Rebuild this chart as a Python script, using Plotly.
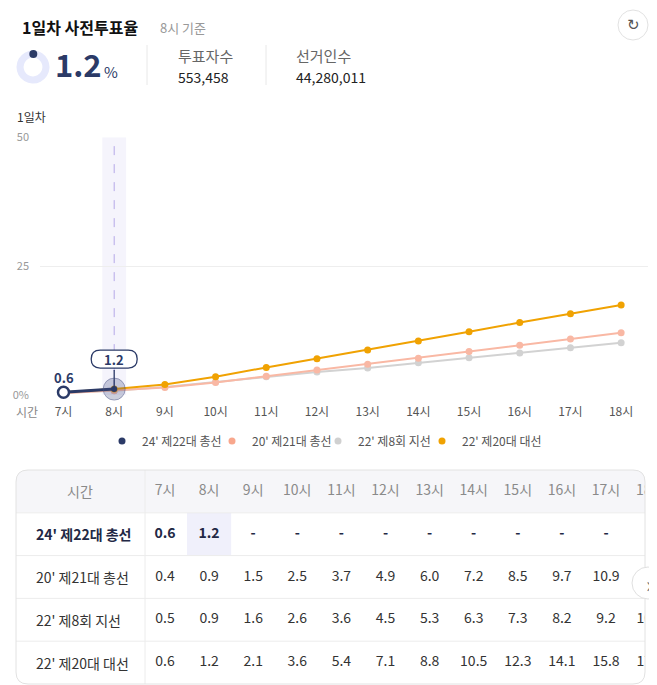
import plotly.graph_objects as go

# Chart data
hours = ['7시', '8시', '9시', '10시', '11시', '12시', '13시', '14시', '15시', '16시', '17시', '18시']
series_names = ["24' 제22대 총선", "20' 제21대 총선", "22' 제8회 지선", "22' 제20대 대선"]
vote_24 = [0.6, 1.2]
vote_20 = [0.4, 0.9, 1.5, 2.5, 3.7, 4.9, 6.0, 7.2, 8.5, 9.7, 10.9, 12.1]
local_22 = [0.5, 0.9, 1.6, 2.6, 3.6, 4.5, 5.3, 6.3, 7.3, 8.2, 9.2, 10.2]
pres_22 = [0.6, 1.2, 2.1, 3.6, 5.4, 7.1, 8.8, 10.5, 12.3, 14.1, 15.8, 17.5]
y_ticks = [0, 25, 50]
y_tick_text = ['0%', '25', '50']
turnout = 1.2
voters = 553458
electors = 44280011

W, H = 657, 685
OFF = 8  # page body margin
FONT = 'Noto Sans CJK KR, Noto Sans, sans-serif'
NAVY = '#2b3a67'
colors = [NAVY, '#f9b8a4', '#d2d2d2', '#f0a202']
legend_colors = [NAVY, '#f8a78d', '#d0d0d0', '#f0a202']
legend_dot_x = [128, 238, 344, 448]   # where each legend entry sits (px)


def px(x):
    return (x - OFF) / W


def py(y):
    return 1 - (y - OFF) / H


def rounded_rect(x0, y0, x1, y1, r, top_only=False):
    # path in paper coordinates from pixel box
    rx, ry = r / W, r / H
    X0, X1, Y0, Y1 = px(x0), px(x1), py(y1), py(y0)
    if top_only:
        return (f'M{X0},{Y0} L{X0},{Y1 - ry} Q{X0},{Y1} {X0 + rx},{Y1} '
                f'L{X1 - rx},{Y1} Q{X1},{Y1} {X1},{Y1 - ry} L{X1},{Y0} Z')
    return (f'M{X0 + rx},{Y0} L{X1 - rx},{Y0} Q{X1},{Y0} {X1},{Y0 + ry} '
            f'L{X1},{Y1 - ry} Q{X1},{Y1} {X1 - rx},{Y1} L{X0 + rx},{Y1} '
            f'Q{X0},{Y1} {X0},{Y1 - ry} L{X0},{Y0 + ry} Q{X0},{Y0} {X0 + rx},{Y0} Z')


fig = go.Figure()

# donut for turnout
fig.add_trace(go.Pie(values=[turnout, 100 - turnout], hole=0.57, sort=False,
                     direction='clockwise', rotation=0,
                     marker=dict(colors=[NAVY, '#e6e9fc'], line=dict(width=0)),
                     textinfo='none', hoverinfo='skip', showlegend=False,
                     domain=dict(x=[px(16.5), px(49.5)], y=[py(83.5), py(50.5)])))

# comparison lines
for name, vals, c in [(series_names[2], local_22, colors[2]),
                      (series_names[1], vote_20, colors[1]),
                      (series_names[3], pres_22, colors[3])]:
    fig.add_trace(go.Scatter(x=hours[:len(vals)], y=vals, mode='lines+markers', name=name,
                             line=dict(color=c, width=2), marker=dict(size=7, color=c),
                             showlegend=False, cliponaxis=False, hoverinfo='skip'))

# current election: line, hollow start point, halo + dot on the latest hour
last = len(vote_24) - 1
fig.add_trace(go.Scatter(x=hours[:len(vote_24)], y=vote_24, mode='lines',
                         line=dict(color=NAVY, width=3), showlegend=False,
                         cliponaxis=False, hoverinfo='skip'))
fig.add_trace(go.Scatter(x=hours[:last], y=vote_24[:last], mode='markers',
                         marker=dict(size=11, color='#ffffff', line=dict(color=NAVY, width=2.5)),
                         showlegend=False, cliponaxis=False, hoverinfo='skip'))
fig.add_trace(go.Scatter(x=[hours[last]], y=[vote_24[last]], mode='markers',
                         marker=dict(size=22, color='rgba(70,80,130,0.28)',
                                     line=dict(color='rgba(70,80,130,0.45)', width=1)),
                         showlegend=False, cliponaxis=False, hoverinfo='skip'))
fig.add_trace(go.Scatter(x=[hours[last]], y=[vote_24[last]], mode='markers',
                         marker=dict(size=6, color=NAVY, line=dict(width=0)),
                         showlegend=False, cliponaxis=False, hoverinfo='skip'))

# legend-only entries (dots), one small legend each so they sit like the original
legend_ids = ['legend', 'legend2', 'legend3', 'legend4']
for name, c, lid in zip(series_names, legend_colors, legend_ids):
    fig.add_trace(go.Scatter(x=[None], y=[None], mode='markers', name=name, legend=lid,
                             marker=dict(size=7, color=c)))

# table: header row + data rows on their own axes
rows = ['시간'] + series_names
fig.add_trace(go.Scatter(x=hours, y=[rows[0]] * len(hours), mode='text', text=hours,
                         textfont=dict(size=14, color='#8a8a8a', family=FONT),
                         xaxis='x2', yaxis='y2', showlegend=False, hoverinfo='skip'))
for i, vals in enumerate([vote_24, vote_20, local_22, pres_22]):
    texts = [f'{v:.1f}' for v in vals] + ['-'] * (len(hours) - len(vals))
    fig.add_trace(go.Scatter(x=hours, y=[series_names[i]] * len(hours), mode='text', text=texts,
                             textfont=dict(size=14, family=FONT,
                                           color='#222845' if i == 0 else '#333333',
                                           weight='bold' if i == 0 else 'normal'),
                             xaxis='x2', yaxis='y2', showlegend=False, hoverinfo='skip'))

shapes = [
    # highlight band + dashed guide at current hour
    dict(type='rect', xref='x', yref='y', x0=last - 0.235, x1=last + 0.235, y0=0, y1=50,
         fillcolor='#f5f4fc', line=dict(width=0), layer='below'),
    dict(type='line', xref='x', yref='y', x0=last, x1=last, y0=vote_24[last], y1=50,
         line=dict(color='#b5a9e8', width=1, dash='dash'), layer='below'),
    # callout box
    dict(type='path', xref='x', yref='y', xsizemode='pixel', ysizemode='pixel',
         xanchor=last, yanchor=vote_24[last],
         path='M-14,21 L14,21 Q23,21 23,30 Q23,39 14,39 L-14,39 Q-23,39 -23,30 Q-23,21 -14,21 Z',
         fillcolor='white', line=dict(color=NAVY, width=1.3), layer='above'),
    # header separators
    dict(type='line', xref='paper', yref='paper', x0=px(147), x1=px(147), y0=py(45), y1=py(85),
         line=dict(color='#e8e8e8', width=1)),
    dict(type='line', xref='paper', yref='paper', x0=px(266), x1=px(266), y0=py(45), y1=py(85),
         line=dict(color='#e8e8e8', width=1)),
    dict(type='circle', xref='paper', yref='paper', x0=px(29.3), x1=px(37.3), y0=py(58), y1=py(50),
         fillcolor=NAVY, line=dict(width=0)),
    # refresh button
    dict(type='circle', xref='paper', yref='paper', x0=px(618), x1=px(648), y0=py(40), y1=py(10),
         fillcolor='white', line=dict(color='#e2e2e2', width=1)),
    # table
    dict(type='path', xref='paper', yref='paper', path=rounded_rect(16, 470, 645, 512, 12, True),
         fillcolor='#f6f6f9', line=dict(width=0), layer='below'),
    dict(type='rect', xref='x2', yref='y2', x0=last - 0.5, x1=last + 0.5, y0=0.5, y1=1.5,
         fillcolor='#f0f0fb', line=dict(width=0), layer='below'),
]
for k in range(1, len(rows)):
    shapes.append(dict(type='line', xref='paper', yref='y2', x0=px(16), x1=px(645),
                       y0=k - 0.5, y1=k - 0.5, line=dict(color='#ececec', width=1)))
shapes += [
    dict(type='line', xref='paper', yref='paper', x0=px(145), x1=px(145), y0=py(470), y1=py(684),
         line=dict(color='#ececec', width=1)),
    dict(type='path', xref='paper', yref='paper', path=rounded_rect(16, 470, 645, 684, 12),
         line=dict(color='#e2e2e2', width=1)),
    dict(type='circle', xref='paper', yref='paper', x0=px(632), x1=px(664), y0=py(599), y1=py(567),
         fillcolor='white', line=dict(color='#e0e0e0', width=1), layer='above'),
]

ann = [
    dict(x=px(20), y=py(27), text='<b>1일차 사전투표율</b>', font=dict(size=16, color='#111')),
    dict(x=px(158), y=py(27), text='8시 기준', font=dict(size=13, color='#999')),
    dict(x=px(633), y=py(25), xanchor='center', text='↻',
         font=dict(size=15, color='#555', family='DejaVu Sans')),
    dict(x=px(53), y=py(64), text=f'<b>{turnout}</b>', font=dict(size=31, color=NAVY)),
    dict(x=px(102), y=py(72), text='%', font=dict(size=15, color=NAVY)),
    dict(x=px(176), y=py(55), text='투표자수', font=dict(size=15, color='#666')),
    dict(x=px(176), y=py(77), text=f'{voters:,}', font=dict(size=14, color='#222')),
    dict(x=px(294), y=py(55), text='선거인수', font=dict(size=15, color='#666')),
    dict(x=px(294), y=py(77), text=f'{electors:,}', font=dict(size=14, color='#222')),
    dict(x=px(15), y=py(117), text='1일차', font=dict(size=12, color='#333')),
    dict(x=px(14), y=py(411), text='시간', font=dict(size=12, color='#888')),
    dict(x=px(649), y=py(583), xanchor='center', text='›', font=dict(size=22, color='#777')),
    dict(x=px(80), y=rows[0], xref='paper', yref='y2', xanchor='center', text=rows[0],
         font=dict(size=14, color='#8a8a8a')),
]
for i, name in enumerate(series_names):
    ann.append(dict(x=px(34), y=name, xref='paper', yref='y2',
                    text=f'<b>{name}</b>' if i == 0 else name,
                    font=dict(size=14, color='#222845' if i == 0 else '#333')))
for a in ann:
    a.setdefault('xref', 'paper')
    a.setdefault('yref', 'paper')
    a.setdefault('xanchor', 'left')
    a.setdefault('yanchor', 'middle')
    a['showarrow'] = False

# point labels for the current series
ann.append(dict(x=hours[0], y=vote_24[0], xref='x', yref='y', text=f'<b>{vote_24[0]}</b>',
                showarrow=False, yshift=15, font=dict(size=13, color=NAVY)))
ann.append(dict(x=hours[last], y=vote_24[last], xref='x', yref='y', text=f'<b>{vote_24[last]}</b>',
                showarrow=True, ax=0, ay=-30, arrowhead=0, arrowwidth=1.3, arrowcolor=NAVY,
                standoff=0, font=dict(size=13, color=NAVY)))

legends = {}
for lid, dx in zip(legend_ids, legend_dot_x):
    legends[lid] = dict(orientation='h', x=px(dx - 26), xanchor='left', y=py(441),
                        yanchor='middle', font=dict(size=12, color='#555'), itemwidth=30,
                        bgcolor='rgba(0,0,0,0)')

fig.update_layout(
    width=W, height=H, margin=dict(l=0, r=0, t=0, b=0, autoexpand=False),
    paper_bgcolor='white', plot_bgcolor='white',
    font=dict(family=FONT, color='#333'),
    xaxis=dict(type='category', domain=[px(40), px(648)], range=[-0.4635, 11.53],
               showgrid=False, zeroline=False, showline=False, ticks='', automargin=False,
               tickfont=dict(size=12, color='#555'), ticklabelstandoff=8, fixedrange=True),
    yaxis=dict(domain=[py(395.3), py(137.3)], range=[0, 50], tickvals=y_ticks, automargin=False,
               ticktext=y_tick_text, gridcolor='#eeeeee', zeroline=False, showline=False,
               tickfont=dict(size=11, color='#999'), ticklabelstandoff=10, fixedrange=True),
    xaxis2=dict(type='category', domain=[px(145), px(645)], range=[-0.4535, 10.884],
                anchor='y2', visible=False, fixedrange=True),
    yaxis2=dict(type='category', domain=[py(684), py(470)], range=[4.5, -0.5],
                anchor='x2', visible=False, fixedrange=True, categoryorder='array',
                categoryarray=rows),
    shapes=shapes, annotations=ann, showlegend=True,
    **legends,
)

fig.write_html('out.html')
